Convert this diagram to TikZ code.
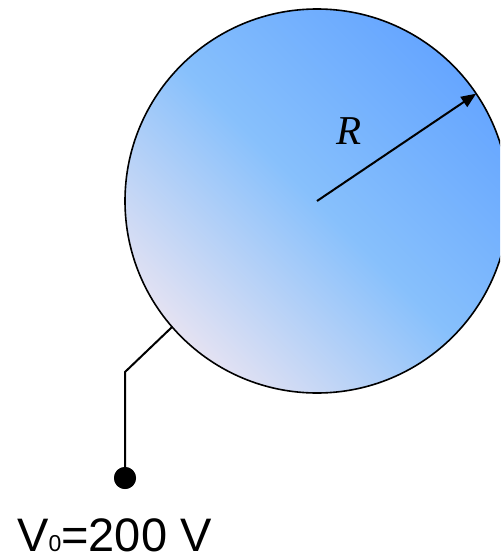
\documentclass[tikz,border=0pt]{standalone}
\usepackage{fontspec}
\setmainfont{Liberation Sans}
\newfontfamily\tnr{Liberation Serif}
\usetikzlibrary{arrows.meta}
\definecolor{lav}{RGB}{228,226,242}
\definecolor{midb}{RGB}{135,192,252}
\definecolor{blu}{RGB}{102,166,255}
\pgfdeclareverticalshading{ballshade}{100bp}{color(0bp)=(lav); color(25bp)=(lav); color(50bp)=(midb); color(75bp)=(blu); color(100bp)=(blu)}
\tikzset{
  ballstyle/.style={circle, draw=black, line width=1.6pt, shade, shading=ballshade, shading angle=-45, minimum size=384pt, inner sep=0pt, outer sep=0pt},
  wire/.style={line width=2pt, line join=miter},
  radius arrow/.style={line width=2pt, -{Triangle[length=15pt,width=12pt]}},
  dotstyle/.style={circle, fill=black, minimum size=22pt, inner sep=0pt},
  lbl/.style={inner sep=0pt}
}
\begin{document}
\begin{tikzpicture}[x=1pt,y=-1pt]
\useasboundingbox (0,0) rectangle (500,556);
\clip (0,0) rectangle (500,556);
\node[ballstyle] (ball) at (317,201) {};
\coordinate (corner) at (125,372);
\node[dotstyle] (dot) at (125,478) {};
\draw[wire] (ball.221.8) -- (corner) -- (dot.center);
\node[dotstyle] at (125,478) {};
\coordinate (tip) at (ball.34.9);
\draw[radius arrow] (ball.center) -- (tip);
\node[lbl, anchor=base] (R) at (349,145) {\fontsize{41}{41}\selectfont\tnr\itshape R};
\node[lbl, anchor=base west] (V) at (17,551) {\fontsize{47}{47}\selectfont V{\fontsize{23}{23}\selectfont 0}=200 V};
\end{tikzpicture}
\end{document}
